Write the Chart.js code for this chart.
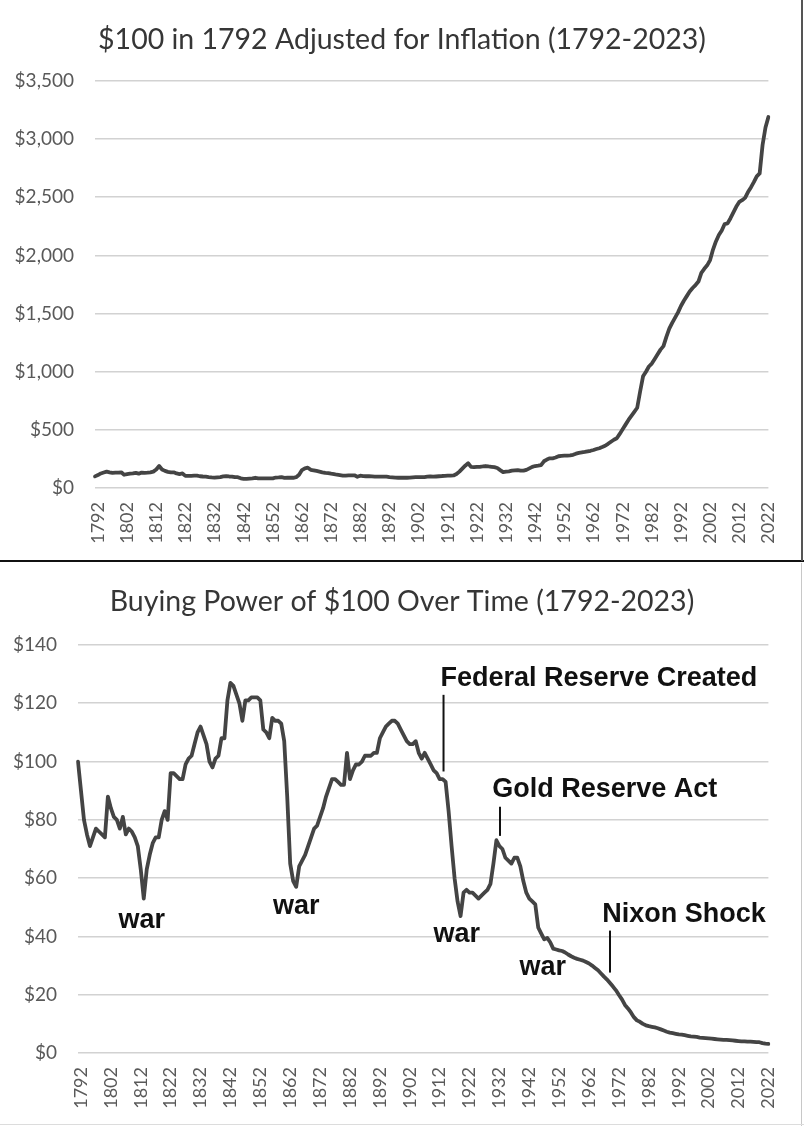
<!DOCTYPE html>
<html>
<head>
<meta charset="utf-8">
<script src="https://cdn.jsdelivr.net/npm/chart.js@4.4.1/dist/chart.umd.min.js"></script>
<style>
  html, body { margin: 0; padding: 0; background: #ffffff; }
  #wrap { position: relative; width: 804px; height: 1126px; overflow: hidden; background: #fff; }
  #c1 { position: absolute; left: 0; top: 0; }
  #c2 { position: absolute; left: 0; top: 563px; }
  #sep { position: absolute; left: 0; top: 560px; width: 804px; height: 2px; background: #111; }
  #rb1 { position: absolute; left: 801px; top: 0; width: 2px; height: 561px; background: #555; }
  #rb2 { position: absolute; left: 801px; top: 563px; width: 1px; height: 563px; background: #c8c8c8; }
  #bb2 { position: absolute; left: 0; top: 1124px; width: 804px; height: 1px; background: #dcdcdc; }
</style>
</head>
<body>
<div id="wrap">
  <canvas id="c1" width="804" height="560"></canvas>
  <div id="sep"></div>
  <canvas id="c2" width="804" height="563"></canvas>
  <div id="rb1"></div>
  <div id="rb2"></div>
  <div id="bb2"></div>
</div>
<script>
// ---------- categories ----------
const years = [
  1792,1793,1794,1795,1796,1797,1798,1799,1800,1801,
  1802,1803,1804,1805,1806,1807,1808,1809,1810,1811,
  1812,1813,1814,1815,1816,1817,1818,1819,1820,1821,
  1822,1823,1824,1825,1826,1827,1828,1829,1830,1831,
  1832,1833,1834,1835,1836,1837,1838,1839,1840,1841,
  1842,1843,1844,1845,1846,1847,1848,1849,1850,1851,
  1852,1853,1854,1855,1856,1857,1858,1859,1860,1861,
  1862,1863,1864,1865,1866,1867,1868,1869,1870,1871,
  1872,1873,1874,1875,1876,1877,1878,1879,1880,1881,
  1882,1883,1884,1885,1886,1887,1888,1889,1890,1891,
  1892,1893,1894,1895,1896,1897,1898,1899,1900,1901,
  1902,1903,1904,1905,1906,1907,1908,1909,1910,1911,
  1912,1913,1914,1915,1916,1917,1918,1919,1920,1921,
  1922,1923,1924,1925,1926,1927,1928,1929,1930,1931,
  1932,1933,1934,1935,1936,1937,1938,1939,1940,1941,
  1942,1943,1944,1945,1946,1947,1948,1949,1950,1951,
  1952,1953,1954,1955,1956,1957,1958,1959,1960,1961,
  1962,1963,1964,1965,1966,1967,1968,1969,1970,1971,
  1972,1973,1974,1975,1976,1977,1978,1979,1980,1981,
  1982,1983,1984,1985,1986,1987,1988,1989,1990,1991,
  1992,1993,1994,1995,1996,1997,1998,1999,2000,2001,
  2002,2003,2004,2005,2006,2007,2008,2009,2010,2011,
  2012,2013,2014,2015,2016,2017,2018,2019,2020,2021,
  2022,2023
];

// ---------- series: $100 in 1792 adjusted for inflation ----------
const adjustedValues = [
  100,111,125,133,141,135,130,132,133,135,
  114,119,123,125,130,123,133,130,132,135,
  141,159,189,159,147,139,135,135,125,120,
  125,104,104,105,106,106,101,99,98,94,
  91,89,92,94,100,102,99,98,93,93,
  83,79,79,81,83,88,83,83,82,82,
  82,83,90,91,93,87,88,88,88,93,
  114,154,169,175,156,152,147,141,135,130,
  128,123,119,114,110,106,106,108,109,109,
  97,106,103,101,101,100,98,98,98,97,
  97,93,91,89,88,88,88,88,90,92,
  93,94,94,93,97,99,97,99,101,103,
  104,106,106,108,120,141,167,192,213,182,
  179,182,182,185,189,185,182,179,172,154,
  137,141,143,149,152,154,149,149,156,169,
  182,189,192,196,230,245,255,255,262,273,
  276,278,279,280,285,295,302,306,310,315,
  320,327,335,342,352,363,380,398,415,428,
  465,505,545,585,620,655,690,830,960,1000,
  1045,1070,1110,1150,1190,1220,1300,1370,1420,1465,
  1510,1565,1610,1650,1690,1720,1745,1775,1850,1885,
  1915,1960,2050,2120,2175,2215,2270,2275,2320,2370,
  2420,2460,2475,2495,2545,2585,2630,2680,2705,2950,
  3100,3190
];

// ---------- series: buying power of $100 ----------
const buyingPowerValues = [
  100,90,80,75,71,74,77,76,75,74,
  88,84,81,80,77,81,75,77,76,74,
  71,63,53,63,68,72,74,74,80,83,
  80,96,96,95,94,94,99,101,102,106,
  110,112,109,106,100,98,101,102,108,108,
  121,127,126,123,120,114,121,121,122,122,
  122,121,111,110,108,115,114,114,113,107,
  88,65,59,57,64,66,68,71,74,77,
  78,81,84,88,91,94,94,93,92,92,
  103,94,97,99,99,100,102,102,102,103,
  103,108,110,112,113,114,114,113,111,109,
  107,106,106,107,103,101,103,101,99,97,
  96,94,94,93,83,71,60,52,47,55,
  56,55,55,54,53,54,55,56,58,65,
  73,71,70,67,66,65,67,67,64,59,
  55,53,52,51,43,41,39,39.5,38,35.8,
  35.5,35.2,35,34.5,33.8,33.2,32.7,32.3,32,31.7,
  31.2,30.7,30,29.2,28.4,27.3,26.2,25.2,24,22.8,
  21.5,19.9,18.4,16.5,15.3,13.9,12.3,11.2,10.7,10,
  9.5,9.2,9,8.8,8.5,8.1,7.7,7.3,7,6.8,
  6.6,6.4,6.3,6.1,5.9,5.7,5.6,5.5,5.3,5.2,
  5.1,5,4.9,4.8,4.7,4.6,4.5,4.5,4.4,4.3,
  4.2,4.1,4,4,3.9,3.9,3.8,3.7,3.7,3.4,
  3.2,3.1
];

// ---------- tick labels ----------
const xTickLabels = ['1792','1802','1812','1822','1832','1842','1852','1862','1872','1882','1892',
  '1902','1912','1922','1932','1942','1952','1962','1972','1982','1992','2002','2012','2022'];
const yTicksTop = [0, 500, 1000, 1500, 2000, 2500, 3000, 3500];
const yTicksBottom = [0, 20, 40, 60, 80, 100, 120, 140];

// ---------- titles & annotations ----------
const titleTop = '$100 in 1792 Adjusted for Inflation (1792-2023)';
const titleBottom = 'Buying Power of $100 Over Time (1792-2023)';
const noteLabels = ['war', 'war', 'war', 'war', 'Federal Reserve Created', 'Gold Reserve Act', 'Nixon Shock'];
const noteYears  = [1813.3, 1865, 1918.7, 1947.5, 1913.3, 1930.6, 1967.4];
const noteValues = [45.6, 50.2, 40.5, 29.4, 128.6, 90.3, 47.4];
const noteAlign  = ['center', 'center', 'center', 'center', 'left', 'left', 'left'];
const leaderYears = [1914.3, 1933.2, 1970];
const leaderFrom  = [122.9, 84.5, 42];
const leaderTo    = [96.6, 74.5, 27.6];

const TICK_COLOR = '#595959';
const GRID_COLOR = '#d2d2d2';
const LINE_COLOR = '#444444';

function dollar(v) { return '$' + Number(v).toLocaleString('en-US'); }

const centeredTitle = {
  id: 'centeredTitle',
  afterDraw(chart, args, opts) {
    const ctx = chart.ctx;
    ctx.save();
    ctx.font = '28.5px Lato, "Open Sans", sans-serif';
    ctx.fillStyle = '#363636';
    ctx.textAlign = 'center';
    ctx.textBaseline = 'middle';
    ctx.fillText(opts.text, chart.width / 2, opts.y);
    ctx.restore();
  }
};

const notesPlugin = {
  id: 'notes',
  afterDatasetsDraw(chart, args, opts) {
    if (!opts.enabled) return;
    const xs = chart.scales.x, ys = chart.scales.y, ctx = chart.ctx;
    ctx.save();
    ctx.fillStyle = '#111';
    ctx.font = 'bold 27px "Liberation Sans", Arial, sans-serif';
    ctx.textBaseline = 'middle';
    for (let i = 0; i < noteLabels.length; i++) {
      ctx.textAlign = noteAlign[i];
      ctx.fillText(noteLabels[i], xs.getPixelForValue(noteYears[i] - years[0]), ys.getPixelForValue(noteValues[i]));
    }
    ctx.strokeStyle = '#111';
    ctx.lineWidth = 2;
    for (let i = 0; i < leaderYears.length; i++) {
      const x = xs.getPixelForValue(leaderYears[i] - years[0]);
      ctx.beginPath();
      ctx.moveTo(x, ys.getPixelForValue(leaderFrom[i]));
      ctx.lineTo(x, ys.getPixelForValue(leaderTo[i]));
      ctx.stroke();
    }
    ctx.restore();
  }
};

function makeChart(id, values, yTicks, yStep, yAxisWidth, xAxisHeight, topPad, title, titleY, notes) {
  return new Chart(document.getElementById(id), {
    type: 'line',
    data: {
      labels: years.map(String),
      datasets: [{
        data: values,
        borderColor: LINE_COLOR,
        borderWidth: 3.8,
        pointRadius: 0,
        pointHoverRadius: 0,
        tension: 0,
        fill: false,
        borderJoinStyle: 'round',
        borderCapStyle: 'round'
      }]
    },
    options: {
      responsive: false,
      animation: false,
      devicePixelRatio: 1,
      layout: { padding: { top: topPad, right: 23, bottom: 0, left: 0 } },
      plugins: {
        legend: { display: false },
        tooltip: { enabled: false },
        title: { display: false },
        centeredTitle: { text: title, y: titleY },
        notes: { enabled: notes }
      },
      scales: {
        x: {
          type: 'category',
          offset: false,
          grid: { display: false, drawTicks: false },
          border: { display: false },
          ticks: {
            autoSkip: false,
            maxRotation: 90,
            minRotation: 90,
            padding: 14,
            labelOffset: 3,
            color: TICK_COLOR,
            font: { family: 'Lato, "Open Sans", sans-serif', size: 18 },
            callback: function (value) {
              const lab = this.getLabelForValue(value);
              return xTickLabels.includes(lab) ? lab : '';
            }
          },
          afterFit: (scale) => { scale.height = xAxisHeight; }
        },
        y: {
          min: yTicks[0],
          max: yTicks[yTicks.length - 1],
          grid: { color: GRID_COLOR, lineWidth: 1.6, drawTicks: false },
          border: { display: false },
          ticks: {
            stepSize: yStep,
            padding: 21,
            color: TICK_COLOR,
            font: { family: 'Lato, "Open Sans", sans-serif', size: 19 },
            callback: (v) => yTicks.includes(v) ? dollar(v) : ''
          },
          afterFit: (scale) => { scale.width = yAxisWidth; }
        }
      }
    },
    plugins: [centeredTitle, notesPlugin]
  });
}

makeChart('c1', adjustedValues, yTicksTop, 500, 95, 72, 81, titleTop, 40, false);
makeChart('c2', buyingPowerValues, yTicksBottom, 20, 78, 73, 82, titleBottom, 39, true);
</script>
</body>
</html>
